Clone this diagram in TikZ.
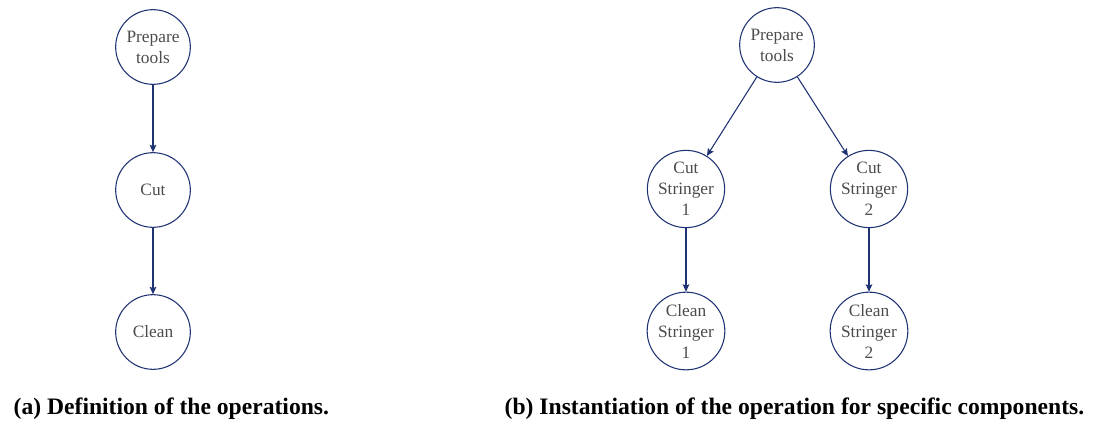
\documentclass[tikz,border=0pt]{standalone}
\usepackage{fontspec}
\setmainfont{Liberation Serif}
\definecolor{opblue}{RGB}{31,50,115}
\definecolor{optext}{RGB}{75,75,75}
\usetikzlibrary{arrows.meta,positioning}

\begin{document}
\begin{tikzpicture}[x=0.75pt,y=-0.75pt,
  op/.style={circle,draw=opblue,line width=0.8pt,minimum size=56pt,inner sep=0pt,
    align=center,text=optext,font=\fontsize{13}{15.75}\selectfont},
  link/.style={-{Stealth[length=5.5pt,width=5pt,inset=1pt]},opblue,line width=0.8pt},
  subcap/.style={font=\fontsize{17.7}{20}\selectfont\bfseries,anchor=base west}]
  \useasboundingbox (0,0) rectangle (1096,421);
  % (a) definition
  \node[op] (prep) at (153,47) {Prepare\\tools};
  \node[op] (cut) at (153,190) {Cut};
  \node[op] (clean) at (153,332) {Clean};
  \draw[link] (prep) -- (cut);
  \draw[link] (cut) -- (clean);
  % (b) instantiation
  \node[op] (prepb) at (777,45) {Prepare\\tools};
  \foreach \n/\x in {1/686,2/869}{
    \node[op] (cut\n) at (\x,189) {Cut\\Stringer\\\n};
    \node[op] (clean\n) at (\x,331) {Clean\\Stringer\\\n};
    \draw[link] (prepb) -- (cut\n);
    \draw[link] (cut\n) -- (clean\n);
  }
  \node[subcap] (capa) at (9,414) {(a) Definition of the operations.};
  \node[subcap] (capb) at (500,414) {(b) Instantiation of the operation for specific components.};
\end{tikzpicture}
\end{document}
